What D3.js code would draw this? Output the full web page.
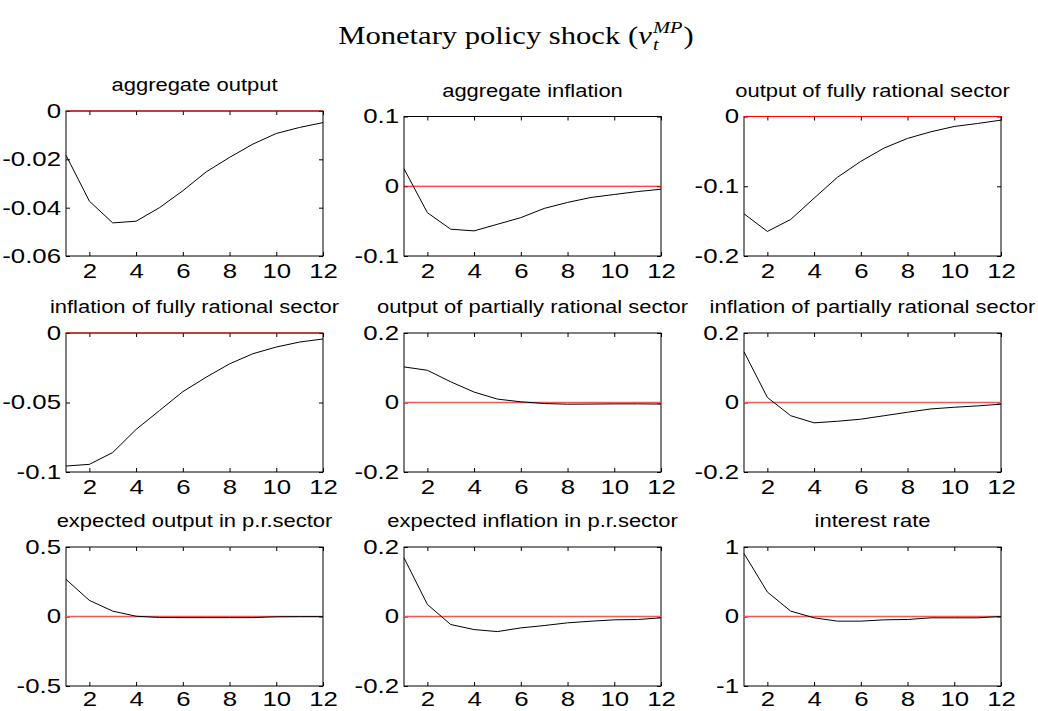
<!DOCTYPE html>
<html>
<head>
<meta charset="utf-8">
<script src="https://cdn.jsdelivr.net/npm/d3@7/dist/d3.min.js"></script>
<style>
  body { margin: 0; background: #fff; }
  .lbl { font-family: "Liberation Sans", Arial, sans-serif; fill: #000; }
  .ttl { font-family: "Liberation Serif", "Times New Roman", serif; fill: #000; }
</style>
</head>
<body>
<div id="chart"></div>
<script>
// impulse responses, periods 1..12
const periods = [1, 2, 3, 4, 5, 6, 7, 8, 9, 10, 11, 12];
const xTicks = [2, 4, 6, 8, 10, 12];

const panelTitles = [
  "aggregate output", "aggregate inflation", "output of fully rational sector",
  "inflation of fully rational sector", "output of partially rational sector", "inflation of partially rational sector",
  "expected output in p.r.sector", "expected inflation in p.r.sector", "interest rate"
];

const aggregateOutput    = [-0.0183, -0.0373, -0.0463, -0.0456, -0.0400, -0.0330, -0.0252, -0.0192, -0.0137, -0.0093, -0.0068, -0.0048];
const aggregateInflation = [0.0251, -0.0379, -0.0616, -0.0640, -0.0545, -0.0450, -0.0318, -0.0232, -0.0161, -0.0118, -0.0076, -0.0043];
const outputFR           = [-0.1395, -0.1648, -0.1476, -0.1171, -0.0871, -0.0643, -0.0452, -0.0314, -0.0219, -0.0143, -0.0100, -0.0052];
const inflationFR        = [-0.0957, -0.0945, -0.0860, -0.0694, -0.0558, -0.0422, -0.0318, -0.0222, -0.0149, -0.0101, -0.0065, -0.0043];
const outputPR           = [0.1024, 0.0927, 0.0595, 0.0300, 0.0098, 0.0020, -0.0030, -0.0049, -0.0045, -0.0040, -0.0040, -0.0045];
const inflationPR        = [0.1460, 0.0146, -0.0380, -0.0585, -0.0540, -0.0480, -0.0380, -0.0280, -0.0185, -0.0137, -0.0098, -0.0049];
const expOutputPR        = [0.267, 0.116, 0.0386, 0.002, -0.007, -0.008, -0.008, -0.008, -0.008, -0.002, -0.001, -0.001];
const expInflationPR     = [0.1687, 0.0347, -0.0231, -0.0376, -0.0434, -0.0328, -0.0260, -0.0183, -0.0135, -0.0096, -0.0087, -0.0039];
const interestRate       = [0.906, 0.352, 0.077, -0.019, -0.067, -0.067, -0.048, -0.043, -0.019, -0.019, -0.019, 0.0];

const yDomains = [[-0.06, 0], [-0.1, 0.1], [-0.2, 0], [-0.1, 0], [-0.2, 0.2], [-0.2, 0.2], [-0.5, 0.5], [-0.2, 0.2], [-1, 1]];
const yTicks = [
  [-0.06, -0.04, -0.02, 0], [-0.1, 0, 0.1], [-0.2, -0.1, 0],
  [-0.1, -0.05, 0], [-0.2, 0, 0.2], [-0.2, 0, 0.2],
  [-0.5, 0, 0.5], [-0.2, 0, 0.2], [-1, 0, 1]
];

const series = [aggregateOutput, aggregateInflation, outputFR, inflationFR, outputPR,
                inflationPR, expOutputPR, expInflationPR, interestRate];

const width = 1038, height = 711;
const sx = 1.2;      // text in the picture is stretched horizontally
const sxTick = 1.29;

const svg = d3.select("#chart").append("svg")
  .attr("width", width)
  .attr("height", height);

// panel layout
const colLeft = [66, 404, 744], panelW = 257;
const rowTop = [116.5, 333, 547], rowBottom = [256, 472, 686];

series.forEach((vals, i) => {
  const col = i % 3, row = Math.floor(i / 3);
  const top = (i === 0) ? 111 : rowTop[row];
  const h = rowBottom[row] - top;
  const g = svg.append("g").attr("transform", `translate(${colLeft[col]},${top})`);

  const x = d3.scaleLinear().domain([1, 12]).range([0, panelW]);
  const y = d3.scaleLinear().domain(yDomains[i]).range([h, 0]);

  // axes with inward ticks
  const bottom = g.append("g").attr("transform", `translate(0,${h})`)
    .call(d3.axisBottom(x).tickValues(xTicks).tickSizeInner(-4).tickSizeOuter(0)
      .tickPadding(row === 2 ? 6 : 8).tickFormat(d3.format("d")));
  g.append("g")
    .call(d3.axisTop(x).tickValues(xTicks).tickSizeInner(-4).tickSizeOuter(0).tickFormat(""));
  const left = g.append("g")
    .call(d3.axisLeft(y).tickValues(yTicks[i]).tickSizeInner(-4).tickSizeOuter(0).tickPadding(4).tickFormat(d => String(d)));
  g.append("g").attr("transform", `translate(${panelW},0)`)
    .call(d3.axisRight(y).tickValues(yTicks[i]).tickSizeInner(-4).tickSizeOuter(0).tickFormat(""));

  g.selectAll(".domain").remove();
  g.selectAll(".tick line").attr("stroke", "#000");
  g.selectAll(".tick text").attr("class", "lbl").attr("font-size", 20);
  bottom.selectAll(".tick text").attr("transform", `scale(${sxTick},1)`);
  left.selectAll(".tick text").attr("transform", `scale(${sxTick},1)`).attr("x", -5 / sxTick);

  // box
  g.append("rect")
    .attr("width", panelW).attr("height", h)
    .attr("fill", "none").attr("stroke", "#000").attr("stroke-width", 1);

  // zero line
  g.append("line")
    .attr("x1", x(1)).attr("x2", x(12))
    .attr("y1", y(0)).attr("y2", y(0))
    .attr("stroke", i >= 4 ? "#f05a5a" : "#ff0000")
    .attr("stroke-width", i >= 4 ? 1.6 : 1.1);

  // response
  g.append("path")
    .datum(vals)
    .attr("fill", "none")
    .attr("stroke", "#000")
    .attr("stroke-width", 1)
    .attr("d", d3.line().x((d, k) => x(periods[k])).y(d => y(d)));

  // panel title
  g.append("text")
    .attr("class", "lbl")
    .attr("transform", `translate(${panelW / 2},-20) scale(${sx},1)`)
    .attr("text-anchor", "middle")
    .attr("font-size", 18.3)
    .text(panelTitles[i]);
});

// figure title
const tg = svg.append("g");
let cx = 0;
const addPart = (str, opts) => {
  const t = tg.append("text")
    .attr("class", "ttl")
    .attr("x", cx).attr("y", opts.dy || 0)
    .attr("font-size", opts.size)
    .style("font-style", opts.italic ? "italic" : "normal")
    .text(str);
  return t.node().getComputedTextLength();
};
cx += addPart("Monetary policy shock (", { size: 25.5 });
cx += addPart("\u03bd", { size: 25.5, italic: true }) + 1;
const wSub = addPart("t", { size: 17, italic: true, dy: 6 });
const wSup = addPart("MP", { size: 17, italic: true, dy: -11 });
cx += Math.max(wSub, wSup) + 1;
cx += addPart(")", { size: 25.5 });
tg.attr("transform", `translate(${516 - cx * sx / 2},44) scale(${sx},1)`);
</script>
</body>
</html>
